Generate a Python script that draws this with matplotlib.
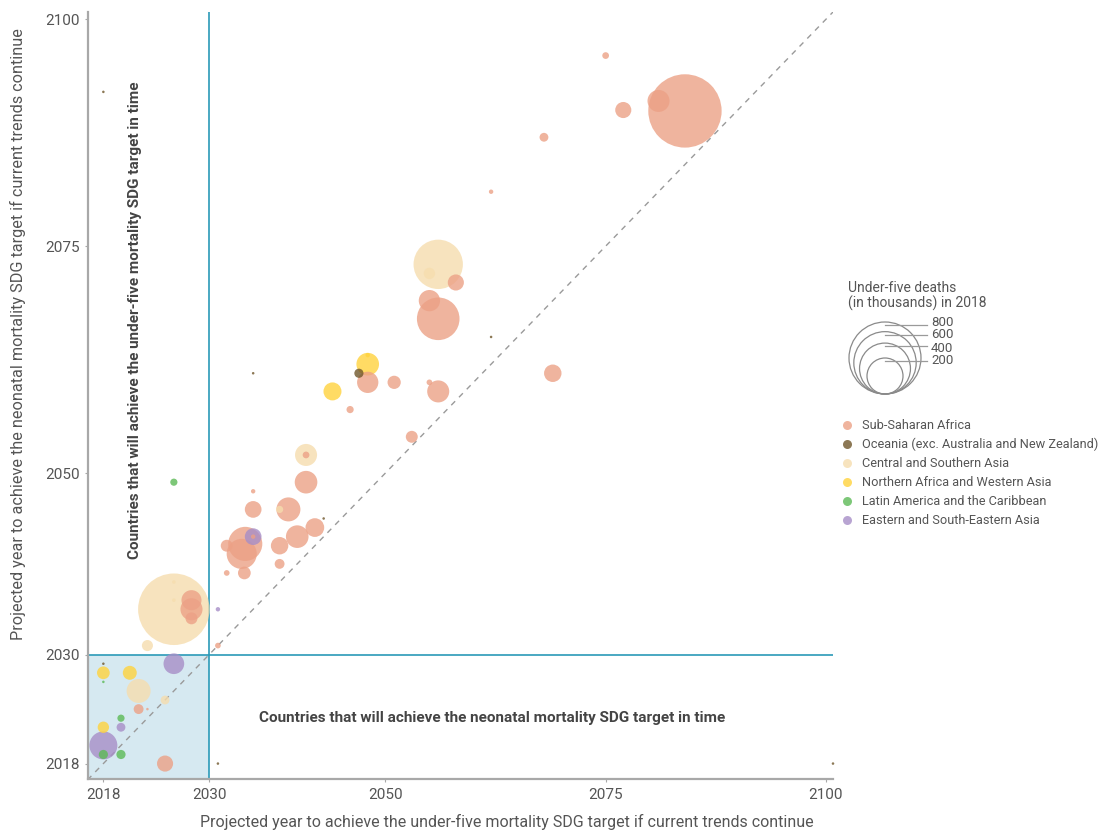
import matplotlib
matplotlib.use('Agg')
import matplotlib.pyplot as plt
from matplotlib.patches import Rectangle, Circle
import matplotlib.font_manager as fm

# ---------------- data ----------------
# (x = projected year under-five target, y = projected year neonatal target, size = under-five deaths, thousands)
ssa_x = [2084, 2081, 2077, 2075, 2068, 2062, 2058, 2055, 2056, 2051, 2055, 2056, 2069, 2048, 2046, 2053,
         2041, 2041, 2035, 2035, 2039, 2034.1, 2033.7, 2035, 2032, 2038, 2040, 2042, 2032, 2034, 2038,
         2028, 2028, 2028, 2031, 2022, 2023, 2025]
ssa_y = [2089.9, 2091, 2090, 2096, 2087, 2081, 2071, 2069, 2067, 2060, 2060, 2059, 2061, 2060, 2057, 2054,
         2052, 2049, 2048, 2046, 2046, 2042.2, 2041.1, 2043, 2042, 2042, 2043, 2044, 2039, 2039, 2040,
         2036, 2035, 2034, 2031, 2024, 2024, 2018]
ssa_size = [830, 75, 40, 7, 12, 3, 40, 70, 280, 27, 5, 75, 47, 70, 8, 22,
            7, 79, 3, 43, 89, 180, 140, 3, 22, 47, 79, 54, 5, 25, 15,
            62, 75, 22, 5, 15, 1, 40]

oce_x = [2062, 2047, 2043, 2035, 2018, 2031, 2100.8, 2018]
oce_y = [2065, 2061, 2045, 2061, 2029, 2018, 2018, 2092]
oce_size = [1, 13, 1, 1, 1, 1, 1, 1]

csa_x = [2056, 2055, 2041, 2038, 2026, 2026, 2026, 2023, 2022, 2025]
csa_y = [2073, 2072, 2052, 2046, 2035, 2038, 2036, 2031, 2026, 2025]
csa_size = [376, 20, 75, 8, 790, 2, 2, 19, 89, 12]

nawa_x = [2048, 2048, 2044, 2018, 2021, 2018]
nawa_y = [2062, 2063, 2059, 2028, 2028, 2022]
nawa_size = [79, 3, 50, 25, 30, 20]

lac_x = [2026, 2018, 2020, 2018, 2020]
lac_y = [2049, 2027, 2023, 2019, 2019]
lac_size = [8, 1, 8, 13, 13]

esea_x = [2035, 2031, 2026, 2020, 2018]
esea_y = [2043, 2035, 2029, 2022, 2020]
esea_size = [43, 3, 66, 12, 121]

region_names = ["Sub-Saharan Africa", "Oceania (exc. Australia and New Zealand)",
                "Central and Southern Asia", "Northern Africa and Western Asia",
                "Latin America and the Caribbean", "Eastern and South-Eastern Asia"]
region_colors = ["#ECA186", "#6F562A", "#F6DDAE", "#FFD33D", "#5CBA56", "#A78EC7"]

size_legend_values = [800, 600, 400, 200]
tick_years = [2018, 2030, 2050, 2075, 2100]

# ---------------- fonts ----------------
names = {f.name for f in fm.fontManager.ttflist}
FONT = 'Liberation Sans Narrow' if 'Liberation Sans Narrow' in names else 'Roboto'
plt.rcParams['font.family'] = [FONT, 'DejaVu Sans']

GRAY_TXT = '#555555'
DARK_TXT = '#444444'
TEAL = '#2B9AB8'

W, H = 1110, 835
fig = plt.figure(figsize=(W / 100, H / 100), dpi=100)
XMIN, XMAX = 2016.2, 2100.8
YMIN, YMAX = 2016.3, 2100.8
ax = fig.add_axes([87.5 / W, 1 - 779 / H, (833 - 87.5) / W, (779 - 12) / H])
ax.set_xlim(XMIN, XMAX)
ax.set_ylim(YMIN, YMAX)

# shaded region & reference lines
ax.add_patch(Rectangle((XMIN, YMIN), 2030 - XMIN, 2030 - YMIN, facecolor='#D6E9F1',
                       edgecolor='none', zorder=0))
ax.plot([XMIN, XMAX], [XMIN, XMAX], ls=(0, (4, 4)), color='#9A9A9A', lw=1.0, zorder=1)
ax.axvline(2030, color=TEAL, lw=1.2, zorder=1)
ax.axhline(2030, color=TEAL, lw=1.2, zorder=1)

# bubbles: combine, draw largest first
pts = []
for xs, ys, ss, c in [(ssa_x, ssa_y, ssa_size, region_colors[0]),
                      (oce_x, oce_y, oce_size, region_colors[1]),
                      (csa_x, csa_y, csa_size, region_colors[2]),
                      (nawa_x, nawa_y, nawa_size, region_colors[3]),
                      (lac_x, lac_y, lac_size, region_colors[4]),
                      (esea_x, esea_y, esea_size, region_colors[5])]:
    for x, y, s in zip(xs, ys, ss):
        pts.append((s, x, y, c))
pts.sort(key=lambda p: -p[0])
K = (2 * 36 * 0.72) ** 2 / 800.0   # points^2 per thousand deaths (radius 36px at 800)
ax.scatter([p[1] for p in pts], [p[2] for p in pts], s=[K * p[0] for p in pts],
           c=[p[3] for p in pts], alpha=0.8, linewidths=0, zorder=3, clip_on=False)

# axes styling
for sp in ['top', 'right']:
    ax.spines[sp].set_visible(False)
for sp in ['left', 'bottom']:
    ax.spines[sp].set_color('#A8A8A8')
    ax.spines[sp].set_linewidth(1.6)
ax.set_xticks(tick_years)
ax.set_yticks(tick_years)
ax.set_xticklabels([str(t) for t in tick_years])
ax.set_yticklabels([str(t) for t in tick_years])
ax.tick_params(axis='x', length=2.5, width=0.8, color='#A8A8A8', pad=4, labelsize=11, labelcolor=GRAY_TXT)
ax.tick_params(axis='y', length=2.5, width=0.8, color='#A8A8A8', pad=3, labelsize=11, labelcolor=GRAY_TXT)

# overlay for free text & legend (1 unit = 1 pixel)
ov = fig.add_axes([0, 0, 1, 1], zorder=5)
ov.set_xlim(0, W)
ov.set_ylim(H, 0)
ov.axis('off')

ov.text(507, 822, "Projected year to achieve the under-five mortality SDG target if current trends continue",
        ha='center', va='center', fontsize=11.5, color=GRAY_TXT)
ov.text(18, 334, "Projected year to achieve the neonatal mortality SDG target if current trends continue",
        ha='center', va='center', rotation=90, fontsize=11.7, color=GRAY_TXT)
ov.text(492, 718, "Countries that will achieve the neonatal mortality SDG target in time",
        ha='center', va='center', fontsize=11, fontweight='bold', color=DARK_TXT)
ov.text(135, 320, "Countries that will achieve the under-five mortality SDG target in time",
        ha='center', va='center', rotation=90, fontsize=11, fontweight='bold', color=DARK_TXT)

# size legend
ov.text(848, 296, "Under-five deaths\n(in thousands) in 2018", ha='left', va='center',
        fontsize=10, color=GRAY_TXT, linespacing=1.05)
cx, bottom = 885, 394
label_y = [322, 335, 348, 361]
for v, ly in zip(size_legend_values, label_y):
    r = 36 * (v / 800) ** 0.5
    ov.add_patch(Circle((cx, bottom - r), r, facecolor='none', edgecolor='#8A8A8A', lw=0.9))
    ty = bottom - 2 * r + 3
    ov.plot([cx, 927], [ty, ty], color='#9A9A9A', lw=0.9)
    ov.text(931, ly, str(v), ha='left', va='center', fontsize=9.5, color=GRAY_TXT)

# region legend
for i, (nm, col) in enumerate(zip(region_names, region_colors)):
    y = 425.5 + i * 19
    ov.add_patch(Circle((847.5, y), 4.5, facecolor=col, alpha=0.8, edgecolor='none'))
    ov.text(862, y, nm, ha='left', va='center', fontsize=9.2, color=GRAY_TXT)

fig.savefig('out.png', dpi=100)
